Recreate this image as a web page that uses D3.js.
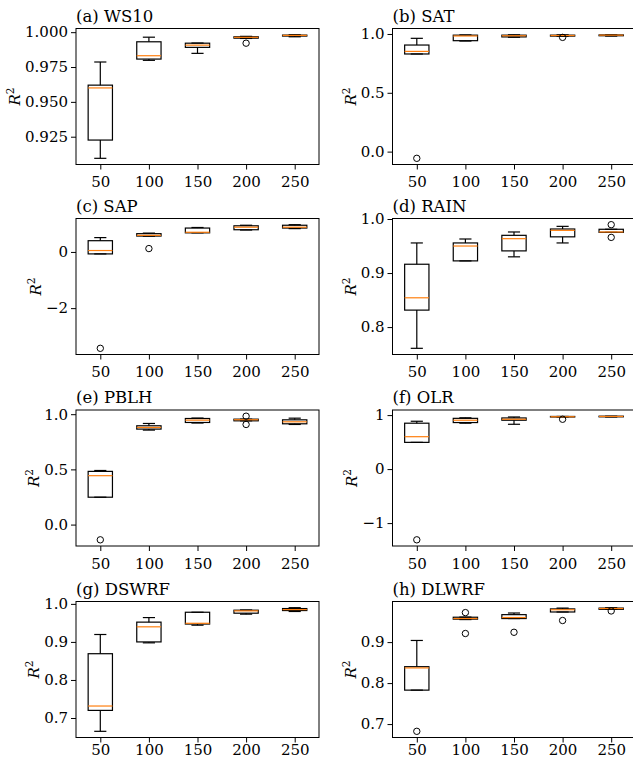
<!DOCTYPE html>
<html>
<head>
<meta charset="utf-8">
<script src="https://cdn.jsdelivr.net/npm/d3@7"></script>
<style>
  body { margin: 0; background: #fff; }
  svg { display: block; font-family: "DejaVu Serif", serif; }
</style>
</head>
<body>
<script>
// sample sizes on the x axis
const categories = [50, 100, 150, 200, 250];

// each box: [whisker low, q1, median, q3, whisker high]
const ws10Boxes = [
  [0.9095, 0.9226, 0.960, 0.962, 0.9786],
  [0.9798, 0.9807, 0.9831, 0.9931, 0.9964],
  [0.9848, 0.9891, 0.9907, 0.9921, 0.9922],
  [0.9955, 0.9957, 0.9963, 0.9967, 0.9970],
  [0.9967, 0.9972, 0.9977, 0.9979, 0.9982]
];
const ws10Outliers = [[], [], [], [0.9921], []];

const satBoxes = [
  [0.830, 0.830, 0.852, 0.906, 0.963],
  [0.940, 0.943, 0.983, 0.990, 0.992],
  [0.972, 0.975, 0.985, 0.990, 0.993],
  [0.980, 0.982, 0.987, 0.990, 0.993],
  [0.982, 0.985, 0.990, 0.992, 0.994]
];
const satOutliers = [[-0.057], [], [], [0.971], []];

const sapBoxes = [
  [-0.07, -0.07, 0.05, 0.40, 0.51],
  [0.56, 0.565, 0.59, 0.65, 0.67],
  [0.68, 0.68, 0.70, 0.85, 0.87],
  [0.78, 0.79, 0.88, 0.93, 0.95],
  [0.83, 0.85, 0.88, 0.95, 0.97]
];
const sapOutliers = [[-3.43], [0.12], [], [], []];

const rainBoxes = [
  [0.7607, 0.8314, 0.8542, 0.9163, 0.9557],
  [0.9225, 0.9225, 0.950, 0.9557, 0.963],
  [0.930, 0.941, 0.9636, 0.9698, 0.976],
  [0.9557, 0.967, 0.979, 0.9815, 0.9864],
  [0.9753, 0.9753, 0.976, 0.981, 0.981]
];
const rainOutliers = [[], [], [], [], [0.9895, 0.966]];

const pblhBoxes = [
  [0.248, 0.248, 0.443, 0.482, 0.49],
  [0.856, 0.865, 0.88, 0.895, 0.916],
  [0.92, 0.925, 0.946, 0.961, 0.965],
  [0.94, 0.94, 0.95, 0.955, 0.955],
  [0.907, 0.913, 0.931, 0.949, 0.964]
];
const pblhOutliers = [[-0.138], [], [], [0.982, 0.907], []];

const olrBoxes = [
  [0.495, 0.495, 0.60, 0.85, 0.886],
  [0.85, 0.862, 0.905, 0.94, 0.95],
  [0.83, 0.905, 0.923, 0.947, 0.965],
  [0.965, 0.965, 0.97, 0.975, 0.975],
  [0.965, 0.968, 0.975, 0.98, 0.98]
];
const olrOutliers = [[-1.31], [], [], [0.923], []];

const dswrfBoxes = [
  [0.665, 0.72, 0.7315, 0.869, 0.9195],
  [0.8976, 0.90, 0.9397, 0.952, 0.964],
  [0.944, 0.947, 0.949, 0.978, 0.978],
  [0.973, 0.9755, 0.9816, 0.9834, 0.984],
  [0.98, 0.9825, 0.985, 0.9877, 0.990]
];
const dswrfOutliers = [[], [], [], [], []];

const dlwrfBoxes = [
  [0.7828, 0.7828, 0.837, 0.840, 0.904],
  [0.955, 0.956, 0.9575, 0.9607, 0.961],
  [0.9575, 0.9575, 0.96, 0.967, 0.971],
  [0.9735, 0.9735, 0.979, 0.981, 0.983],
  [0.98, 0.980, 0.982, 0.983, 0.984]
];
const dlwrfOutliers = [[0.6823], [0.972, 0.921], [0.924], [0.9527], [0.976]];

// y tick labels per panel
const ws10Ticks = [0.925, 0.950, 0.975, 1.000];
const satTicks = [0.0, 0.5, 1.0];
const sapTicks = [-2, 0];
const rainTicks = [0.8, 0.9, 1.0];
const pblhTicks = [0.0, 0.5, 1.0];
const olrTicks = [-1, 0, 1];
const dswrfTicks = [0.7, 0.8, 0.9, 1.0];
const dlwrfTicks = [0.7, 0.8, 0.9];

const panels = [
  { title: "(a) WS10", boxes: ws10Boxes, outliers: ws10Outliers, ticks: ws10Ticks, fmt: ".3f" },
  { title: "(b) SAT", boxes: satBoxes, outliers: satOutliers, ticks: satTicks, fmt: ".1f" },
  { title: "(c) SAP", boxes: sapBoxes, outliers: sapOutliers, ticks: sapTicks, fmt: "d" },
  { title: "(d) RAIN", boxes: rainBoxes, outliers: rainOutliers, ticks: rainTicks, fmt: ".1f" },
  { title: "(e) PBLH", boxes: pblhBoxes, outliers: pblhOutliers, ticks: pblhTicks, fmt: ".1f" },
  { title: "(f) OLR", boxes: olrBoxes, outliers: olrOutliers, ticks: olrTicks, fmt: "d" },
  { title: "(g) DSWRF", boxes: dswrfBoxes, outliers: dswrfOutliers, ticks: dswrfTicks, fmt: ".1f" },
  { title: "(h) DLWRF", boxes: dlwrfBoxes, outliers: dlwrfOutliers, ticks: dlwrfTicks, fmt: ".1f" }
];

const width = 633, height = 759;
const colX = [76, 392.5];       // left edge of each column of axes
const rowY = [28.5, 218.5, 410, 601.5]; // top edge of each row
const rowPad = [7, 7, 7, 2];    // x tick label padding (last row sits tight on the edge)
const axW = 243, axH = 136;

const svg = d3.select("body").append("svg")
  .attr("width", width)
  .attr("height", height);

panels.forEach((p, i) => {
  const row = Math.floor(i / 2);
  const x0 = colX[i % 2], y0 = rowY[row];
  const g = svg.append("g").attr("transform", `translate(${x0},${y0})`);

  // y limits like matplotlib: data extent plus 5% margin
  const all = p.boxes.flat().concat(p.outliers.flat());
  const [lo, hi] = d3.extent(all);
  const m = (hi - lo) * 0.05;

  const x = d3.scalePoint().domain(categories).range([0, axW]).padding(0.5);
  const y = d3.scaleLinear().domain([lo - m, hi + m]).range([axH, 0]);
  const step = x.step();
  const bw = step * 0.5, cw = step * 0.25;

  // boxes
  const box = g.selectAll(".box")
    .data(p.boxes.map((b, k) => ({ cat: categories[k], b: b, out: p.outliers[k] })))
    .enter().append("g")
    .attr("class", "box")
    .attr("transform", d => `translate(${x(d.cat)},0)`);

  box.append("line") // lower whisker
    .attr("y1", d => y(d.b[0])).attr("y2", d => y(d.b[1]))
    .attr("stroke", "#000").attr("stroke-width", 1.2);
  box.append("line") // upper whisker
    .attr("y1", d => y(d.b[3])).attr("y2", d => y(d.b[4]))
    .attr("stroke", "#000").attr("stroke-width", 1.2);
  box.append("line") // low cap
    .attr("x1", -cw / 2).attr("x2", cw / 2)
    .attr("y1", d => y(d.b[0])).attr("y2", d => y(d.b[0]))
    .attr("stroke", "#000").attr("stroke-width", 1.2);
  box.append("line") // high cap
    .attr("x1", -cw / 2).attr("x2", cw / 2)
    .attr("y1", d => y(d.b[4])).attr("y2", d => y(d.b[4]))
    .attr("stroke", "#000").attr("stroke-width", 1.2);
  box.append("rect")
    .attr("x", -bw / 2).attr("width", bw)
    .attr("y", d => y(d.b[3]))
    .attr("height", d => Math.max(0.01, y(d.b[1]) - y(d.b[3])))
    .attr("fill", "none").attr("stroke", "#000").attr("stroke-width", 1.2);
  box.append("line") // median
    .attr("x1", -bw / 2).attr("x2", bw / 2)
    .attr("y1", d => y(d.b[2])).attr("y2", d => y(d.b[2]))
    .attr("stroke", "#ff7f0e").attr("stroke-width", 1.2);
  box.selectAll("circle")
    .data(d => d.out)
    .enter().append("circle")
    .attr("cy", v => y(v)).attr("r", 3.2)
    .attr("fill", "none").attr("stroke", "#000").attr("stroke-width", 1);

  // axes
  const xAxis = g.append("g")
    .attr("transform", `translate(0,${axH})`)
    .call(d3.axisBottom(x).tickSize(5).tickPadding(rowPad[row]));
  const yAxis = g.append("g")
    .call(d3.axisLeft(y).tickValues(p.ticks).tickFormat(d3.format(p.fmt)).tickSize(5).tickPadding(3));
  [xAxis, yAxis].forEach(a => {
    a.select(".domain").remove();
    a.selectAll("text").attr("font-family", "DejaVu Serif").attr("font-size", 15).attr("fill", "#000");
    a.selectAll("line").attr("stroke", "#000").attr("stroke-width", 1);
  });

  // frame
  g.append("rect")
    .attr("width", axW).attr("height", axH)
    .attr("fill", "none").attr("stroke", "#000").attr("stroke-width", 1);

  g.append("text")
    .attr("x", 0).attr("y", -7)
    .attr("font-size", 16.5)
    .text(p.title);

  // y label R^2
  const tw = d3.max(yAxis.selectAll("text").nodes(), n => n.getBBox().width);
  const lx = -5 - 3 - tw - 5;
  const lab = g.append("text")
    .attr("transform", `translate(${lx},${axH / 2}) rotate(-90)`)
    .attr("text-anchor", "middle")
    .attr("font-size", 15);
  lab.append("tspan").attr("font-style", "italic").text("R");
  lab.append("tspan").attr("dy", -6).attr("font-size", 10.5).text("2");
});
</script>
</body>
</html>
